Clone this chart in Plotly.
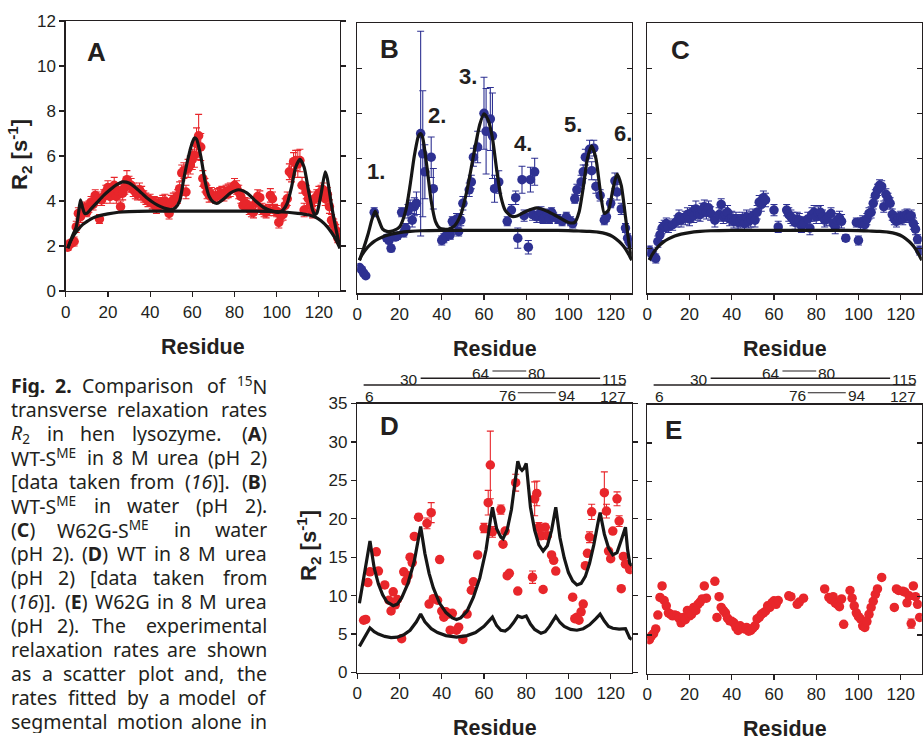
import re
import plotly.graph_objects as go

# ---------------- data ----------------
X_TICKS = [0, 20, 40, 60, 80, 100, 120]
AC_Y_TICKS = [0, 2, 4, 6, 8, 10, 12]
DE_Y_TICKS = [0, 5, 10, 15, 20, 25, 30, 35]

# Panel A: WT-S(ME) in 8 M urea
a_res = [1, 2, 3, 4, 5, 6, 7, 8, 9, 10,
         11, 12, 13, 14, 15, 16, 17, 18, 19, 20,
         21, 22, 23, 24, 25, 26, 27, 28, 29, 30,
         31, 32, 33, 34, 35, 36, 37, 38, 39, 40,
         41, 42, 43, 44, 45, 46, 47, 48, 49, 50,
         51, 52, 53, 54, 55, 56, 57, 58, 59, 60,
         61, 62, 63, 64, 65, 66, 67, 68, 69,
         71, 72, 73, 74, 75, 76, 77, 78,
         80, 81, 82, 83, 84, 85, 86, 87, 88, 89,
         90, 91, 92, 93, 94, 95, 96, 97, 98, 99,
         100, 101, 102, 103, 104, 105, 106, 107, 108, 109,
         110, 111, 112, 113, 114, 115, 116, 117, 118, 119,
         120, 121, 122, 123, 124, 125, 126, 127, 128, 129]
a_r2 = [1.95, 2.1, 2.15, 2.2, 2.85, 3.45, 3.3, 3.6, 3.7, 3.5,
        3.75, 3.95, 3.85, 4.25, 4.1, 3.2, 4.05, 4.2, 4.4, 4.6,
        4.2, 4.4, 4.7, 4.2, 4.45, 3.75, 4.35, 4.6, 4.95, 4.75,
        4.7, 4.5, 4.4, 4.3, 4.5, 4.35, 4.2, 4.1, 4.0, 4.05,
        3.9, 3.95, 3.7, 3.9, 3.85, 3.95, 4.0, 3.75, 3.45, 3.95,
        4.05, 4.1, 4.2, 4.55, 5.25, 5.35, 4.4, 5.45, 5.6, 5.85,
        6.05, 6.55, 6.9, 6.4, 5.0, 4.7, 4.4, 4.25, 4.3,
        4.2, 4.25, 4.3, 4.35, 4.3, 4.4, 4.45, 4.5,
        4.7, 4.6, 4.4, 4.2, 3.8, 3.9, 3.85, 3.65, 3.55, 3.5,
        3.9, 4.2, 4.15, 3.65, 3.55, 3.5, 3.6, 4.25, 4.1, 3.6,
        3.55, 3.05, 3.35, 3.4, 3.8, 4.1, 5.3, 5.2, 5.75, 5.8,
        5.65, 5.8, 4.7, 3.6, 4.4, 4.1, 3.8, 3.5, 4.1, 4.2,
        4.35, 4.4, 4.5, 4.1, 4.3, 3.75, 3.15, 2.95, 2.7, 2.35]
a_err = [0.15, 0.15, 0.15, 0.2, 0.25, 0.25, 0.25, 0.25, 0.25, 0.2,
         0.25, 0.25, 0.25, 0.25, 0.3, 0.2, 0.25, 0.3, 0.3, 0.3,
         0.3, 0.3, 0.35, 0.3, 0.3, 0.25, 0.3, 0.3, 0.4, 0.35,
         0.3, 0.3, 0.3, 0.25, 0.3, 0.3, 0.25, 0.25, 0.25, 0.25,
         0.25, 0.25, 0.25, 0.25, 0.25, 0.3, 0.3, 0.25, 0.25, 0.3,
         0.3, 0.3, 0.3, 0.3, 0.35, 0.35, 0.3, 0.4, 0.4, 0.45,
         0.55, 0.7, 0.95, 0.6, 0.35, 0.3, 0.3, 0.3, 0.3,
         0.3, 0.3, 0.3, 0.3, 0.3, 0.3, 0.3, 0.3,
         0.3, 0.3, 0.3, 0.3, 0.25, 0.25, 0.25, 0.25, 0.25, 0.25,
         0.3, 0.3, 0.3, 0.25, 0.25, 0.25, 0.25, 0.3, 0.3, 0.25,
         0.25, 0.25, 0.25, 0.25, 0.3, 0.3, 0.35, 0.35, 0.4, 0.45,
         0.6, 0.5, 0.35, 0.3, 0.3, 0.3, 0.25, 0.25, 0.3, 0.3,
         0.3, 0.3, 0.3, 0.3, 0.3, 0.3, 0.25, 0.25, 0.25, 0.2]
a_fit_x = [1, 3, 5, 6, 7, 8, 9, 10, 12, 15,
           18, 21, 24, 27, 30, 33, 36, 39, 42, 45,
           48, 50, 52, 54, 56, 58, 60, 61, 62, 64,
           66, 68, 70, 72, 75, 78, 82, 86, 90, 94,
           98, 101, 103, 105, 107, 109, 111, 113, 115, 117,
           118, 119, 121, 123, 124, 126, 128, 130]
a_fit_y = [1.9, 2.4, 2.85, 3.4, 4.05, 3.7, 3.45, 3.45, 3.65, 3.95,
           4.25, 4.5, 4.72, 4.85, 4.8, 4.6, 4.35, 4.1, 3.9, 3.75,
           3.65, 3.62, 3.7, 4.0, 5.0, 5.9, 6.6, 6.8, 6.75, 6.0,
           4.9, 4.2, 3.95, 3.9, 4.1, 4.35, 4.5, 4.35, 4.0, 3.7,
           3.55, 3.5, 3.6, 3.9, 4.6, 5.5, 5.85, 5.5, 4.5, 3.6,
           3.4, 3.45, 4.3, 5.3, 5.0, 3.8, 2.8, 1.9]
a_seg_x = [1, 2, 4, 6, 8, 10, 13, 16, 20, 25, 30, 40, 50, 60,
           70, 80, 90, 100, 105, 110, 114, 118, 121, 124, 126, 128, 129, 130]
a_seg_y = [1.9, 2.15, 2.5, 2.75, 2.95, 3.08, 3.25, 3.35, 3.43, 3.5, 3.53, 3.55, 3.55, 3.55,
           3.55, 3.55, 3.55, 3.53, 3.5, 3.45, 3.4, 3.3, 3.12, 2.85, 2.6, 2.3, 2.1, 1.9]

# Panel B: WT-S(ME) in water
b_res = [1, 2, 3, 4, 8, 14, 15, 16, 18, 19,
         21, 22, 23, 24, 25, 26, 27, 28, 30, 31,
         32, 35, 36, 40, 41, 42, 44, 45, 46, 47,
         48, 49, 50, 53, 54, 55, 57, 60, 61, 63,
         64, 65, 67, 71, 73, 75, 76, 78, 79, 81,
         82, 83, 84, 85, 86, 87, 88, 89, 90, 91,
         92, 93, 95, 97, 99, 101, 102, 103, 104, 106,
         107, 108, 110, 111, 112, 113, 115, 117, 118, 120,
         122, 123, 125, 127, 128, 129]
b_r2 = [1.15, 1.05, 0.9, 0.78, 3.6, 2.45, 2.35, 2.0, 2.5, 2.55,
        3.6, 2.7, 2.9, 3.65, 3.85, 3.25, 3.85, 4.0, 7.1, 6.2,
        5.4, 6.05, 4.65, 2.35, 2.45, 2.55, 2.6, 3.2, 3.1, 3.3,
        2.75, 3.25, 4.0, 4.6, 4.95, 6.05, 6.5, 8.0, 7.2, 7.75,
        7.0, 4.65, 4.95, 3.2, 3.7, 4.25, 2.45, 5.05, 3.45, 2.05,
        5.05, 3.5, 5.4, 3.4, 3.5, 3.6, 3.3, 3.4, 3.5, 3.3,
        3.6, 3.4, 3.3, 3.2, 3.4, 3.2, 3.1, 4.2, 4.6, 4.95,
        5.4, 6.05, 6.4, 5.45, 6.45, 4.75, 4.35, 3.25, 3.4, 4.0,
        5.0, 4.5, 3.75, 2.9, 2.45, 2.25]
b_err = [0.1, 0.1, 0.1, 0.1, 0.2, 0.15, 0.15, 0.15, 0.15, 0.15,
         0.2, 0.2, 0.2, 0.3, 0.3, 0.3, 0.4, 0.5, 4.55, 2.8,
         1.2, 0.9, 0.9, 0.2, 0.2, 0.2, 0.2, 0.2, 0.2, 0.25,
         0.2, 0.25, 0.3, 0.3, 0.3, 0.4, 0.7, 1.6, 1.9, 1.4,
         1.9, 0.6, 0.5, 0.2, 0.25, 0.3, 0.45, 0.6, 0.25, 0.3,
         0.55, 0.25, 0.6, 0.25, 0.25, 0.25, 0.2, 0.2, 0.25, 0.2,
         0.2, 0.2, 0.2, 0.2, 0.2, 0.2, 0.2, 0.2, 0.25, 0.3,
         0.3, 0.35, 0.4, 0.4, 0.35, 0.3, 0.25, 0.2, 0.2, 0.2,
         0.35, 0.35, 0.25, 0.2, 0.2, 0.2]
b_fit_x = [1, 3, 5, 7, 8.5, 10, 12, 14, 17, 20,
           23, 25, 27, 29, 30, 31, 33, 35, 37, 39,
           41, 43, 46, 49, 52, 55, 58, 60, 62, 64,
           66, 68, 70, 73, 76, 80, 85, 90, 95, 100,
           103, 105, 107, 109, 111, 113, 115, 117, 119, 121,
           123, 125, 127, 129, 130]
b_fit_y = [1.47, 2.0, 2.6, 3.3, 3.65, 3.3, 2.85, 2.75, 2.78, 2.95,
           3.7, 4.8, 6.1, 7.0, 7.1, 6.9, 5.6, 4.1, 3.2, 2.9,
           2.85, 2.85, 3.0, 3.5, 4.6, 6.1, 7.5, 7.98, 7.7, 6.9,
           5.5, 4.3, 3.7, 3.42, 3.45, 3.65, 3.8, 3.65, 3.4, 3.15,
           3.15, 3.6, 4.7, 6.0, 6.55, 6.0, 4.6, 3.55, 3.7, 4.6,
           5.3, 4.8, 3.4, 2.0, 1.5]
bc_seg_x = [1, 2, 4, 6, 8, 10, 13, 16, 20, 25, 30, 40, 50, 60,
            70, 80, 90, 100, 105, 110, 114, 118, 121, 124, 126, 128, 129, 130]
bc_seg_y = [1.47, 1.67, 1.95, 2.15, 2.31, 2.42, 2.55, 2.63, 2.7, 2.75, 2.78, 2.8, 2.8, 2.8,
            2.8, 2.8, 2.8, 2.79, 2.77, 2.75, 2.72, 2.64, 2.52, 2.3, 2.1, 1.82, 1.65, 1.47]

# Panel C: W62G-S(ME) in water
c_res = [1, 2, 3, 4, 5, 6, 7, 8, 9, 10,
         12, 14, 15, 16, 18, 19, 20,
         21, 22, 23, 24, 25, 26, 27, 28, 29, 30,
         32, 34, 35, 36, 37, 38, 39, 40,
         41, 42, 43, 44, 45, 46, 47, 48, 49, 50, 51, 52, 53, 54, 55, 56,
         60, 62,
         66, 67, 68, 69, 70, 71, 72, 73, 74,
         76, 77, 78, 79, 80, 81, 82, 83, 84, 85,
         87, 88, 89, 90, 91, 92,
         94,
         99, 100, 101, 102, 103, 104, 105, 106, 107, 108,
         109, 110, 111, 112, 113, 114, 115, 116, 117, 118,
         119, 120, 121, 122, 123, 124, 125, 126, 127, 128, 129]
c_r2 = [1.9, 1.75, 1.65, 1.55, 2.3, 2.6, 2.9, 3.0, 3.1, 2.95,
        3.05, 3.2, 3.4, 3.25, 3.35, 3.5, 3.3,
        3.6, 3.45, 3.75, 3.55, 3.5, 3.7, 3.85, 3.6, 3.8, 3.55,
        3.25, 3.5, 3.95, 3.4, 3.5, 3.6, 3.3, 3.35,
        3.2, 3.3, 3.15, 3.2, 3.3, 3.1, 3.4, 3.2, 3.3, 3.45, 3.25, 3.6, 4.05, 3.95, 4.25, 4.15,
        3.7, 2.95,
        3.7, 3.5, 3.4, 3.3, 3.15, 3.3, 3.25, 3.0, 3.1,
        3.3, 2.9, 3.5, 3.6, 3.4, 3.55, 3.6, 3.4, 3.25, 3.3,
        3.55, 3.1, 2.95, 3.25, 3.35, 3.2,
        2.45,
        3.15, 2.35, 3.1, 3.2, 3.05, 3.3, 3.55, 3.6, 4.0, 4.35,
        4.6, 4.8, 4.75, 3.85, 4.4, 4.2, 4.0, 3.5, 3.3, 3.2,
        3.35, 3.4, 3.3, 3.45, 3.5, 3.4, 3.45, 3.1, 2.85, 2.4, 1.9]
c_err = [0.2, 0.2, 0.2, 0.2, 0.25, 0.25, 0.25, 0.25, 0.25, 0.25,
         0.25, 0.25, 0.3, 0.3, 0.3, 0.3, 0.3,
         0.3, 0.3, 0.35, 0.3, 0.3, 0.3, 0.3, 0.3, 0.3, 0.3,
         0.3, 0.3, 0.25, 0.3, 0.3, 0.3, 0.3, 0.3,
         0.3, 0.3, 0.3, 0.3, 0.3, 0.3, 0.3, 0.3, 0.35, 0.3, 0.3, 0.3, 0.3, 0.3, 0.3, 0.3,
         0.25, 0.25,
         0.25, 0.3, 0.3, 0.3, 0.3, 0.3, 0.3, 0.3, 0.3,
         0.3, 0.3, 0.3, 0.3, 0.3, 0.3, 0.3, 0.3, 0.3, 0.3,
         0.25, 0.3, 0.3, 0.3, 0.3, 0.3,
         0.15,
         0.2, 0.2, 0.25, 0.25, 0.25, 0.25, 0.25, 0.25, 0.25, 0.25,
         0.25, 0.25, 0.25, 0.25, 0.25, 0.25, 0.25, 0.25, 0.25, 0.25,
         0.25, 0.25, 0.25, 0.25, 0.25, 0.25, 0.25, 0.25, 0.25, 0.2, 0.2]

# Panel D: WT in 8 M urea (with disulfides)
d_res = [3, 4, 5, 6, 9, 10, 13, 15, 16, 17,
         18, 19, 21, 22, 23, 24, 25, 26, 27, 29,
         33, 34, 35, 36, 38, 39, 40, 41, 42, 43,
         44, 45, 47, 48, 50, 52, 54, 55, 57, 60,
         62, 63, 64, 68, 69, 70, 71, 72, 75, 76,
         83, 84, 85, 86, 87, 88, 89, 90, 92, 93,
         94, 102, 103, 104, 105, 106, 107, 108, 109, 110,
         111, 117, 118, 119, 120, 121, 123, 124, 125, 126,
         127, 129]
d_r2 = [6.8, 6.9, 11.7, 13.1, 15.7, 13.2, 11.4, 9.4, 8.0, 10.5,
        8.8, 9.5, 4.4, 13.1, 11.9, 12.6, 15.0, 14.3, 17.7, 20.2,
        19.4, 8.9, 20.8, 9.6, 9.4, 14.7, 8.0, 7.2, 7.9, 7.6,
        5.5, 7.7, 5.5, 5.9, 4.3, 7.6, 10.7, 11.8, 15.3, 18.8,
        22.1, 27.0, 18.3, 21.2, 16.7, 18.4, 12.6, 12.9, 24.7, 10.6,
        12.4, 22.6, 23.3, 18.9, 17.8, 10.8, 18.9, 17.8, 15.3, 14.6,
        13.2, 9.8, 7.0, 7.2, 6.8, 7.9, 8.9, 13.9, 15.5, 17.6,
        20.9, 23.4, 21.0, 15.8, 14.8, 18.4, 22.6, 19.7, 10.9, 15.1,
        14.1, 13.4]
d_err = [0.3, 0.3, 0.3, 0.3, 0.3, 0.3, 0.3, 0.3, 0.3, 0.3,
         0.3, 0.3, 0.3, 0.3, 0.3, 0.3, 0.3, 0.3, 0.3, 0.4,
         0.7, 0.3, 1.3, 0.3, 0.3, 0.3, 0.3, 0.3, 0.3, 0.3,
         0.3, 0.3, 0.3, 0.3, 0.3, 0.3, 0.3, 0.3, 0.3, 0.6,
         1.6, 4.4, 0.7, 0.6, 0.3, 0.3, 0.3, 0.3, 1.1, 0.3,
         0.8, 2.2, 1.6, 0.6, 0.5, 0.3, 0.4, 0.3, 0.3, 0.3,
         0.3, 0.3, 0.3, 0.3, 0.3, 0.3, 0.3, 0.3, 0.3, 0.7,
         1.0, 2.7, 0.9, 0.3, 0.3, 0.3, 0.9, 0.7, 0.3, 0.3,
         0.3, 0.3]
d_fit_x = [1, 3, 5, 6, 8, 10, 12, 14, 17, 19,
           21, 24, 27, 29, 30, 32, 34, 36, 39, 42,
           45, 47, 49, 52, 55, 58, 61, 63, 64, 66,
           68, 69, 71, 73, 75, 76, 77, 78, 79, 80,
           82, 84, 86, 88, 90, 92, 94, 96, 98, 100,
           102, 104, 106, 108, 110, 112, 114, 115, 117, 119,
           121, 123, 125, 127, 128, 129, 130]
d_fit_y = [9.0, 12.5, 15.8, 17.1, 13.6, 11.5, 10.1, 9.2, 8.7, 8.9,
           9.7, 11.6, 14.5, 17.4, 19.0, 15.5, 12.9, 11.0, 9.0, 7.8,
           7.1, 6.9, 7.1, 8.0, 9.8, 12.3, 16.0, 19.8, 21.5, 18.7,
           17.6, 17.4, 18.6, 21.2, 25.2, 27.5, 26.6, 26.3, 26.6, 27.2,
           21.5, 18.5, 16.6, 15.8, 16.5, 18.5, 21.5, 17.5, 14.9, 13.0,
           11.9, 11.4, 11.6, 12.5, 14.2, 16.6, 19.5, 20.8, 18.0, 16.2,
           15.3, 15.6, 17.2, 18.9, 16.0, 14.2, 13.9]
d_seg_x = [1, 3, 5, 6, 8, 10, 13, 16, 19, 22,
           25, 28, 30, 32, 35, 38, 42, 47, 52, 56,
           60, 63, 64, 66, 68, 70, 72, 74, 76, 78,
           80, 82, 84, 87, 89, 91, 93, 94, 96, 98,
           101, 104, 107, 110, 113, 115, 117, 119, 121, 124,
           127, 128, 129, 130]
d_seg_y = [3.4, 4.4, 5.4, 5.8, 5.3, 5.0, 4.7, 4.55, 4.6, 4.9,
           5.5, 6.6, 7.6, 6.6, 5.7, 5.2, 4.8, 4.6, 4.8, 5.2,
           6.0, 6.9, 7.2, 6.1, 5.5, 5.4, 5.8, 6.5, 7.35, 7.15,
           7.35, 6.3, 5.6, 5.1, 5.3, 6.0, 6.9, 7.3, 6.5, 6.0,
           5.6, 5.5, 5.7, 6.2, 7.0, 7.6, 6.7, 6.0, 5.75, 5.65,
           5.7, 5.0, 4.5, 4.3]

# Panel E: W62G in 8 M urea
e_res = [1, 2, 3, 4, 5, 6, 7, 8, 9, 10,
         11, 12, 13, 14, 15, 16, 17, 18, 19, 20,
         21, 22, 23, 24, 25, 26, 27, 28,
         32, 33, 34, 35, 36, 37, 38, 39, 40, 41,
         42, 43, 44, 45, 46, 47, 48, 49, 50, 51,
         52, 53, 54, 55, 56, 57, 58, 59, 60, 61, 62,
         67, 68, 71, 72, 74,
         84, 86, 87, 88, 89, 90, 91, 92, 93,
         96, 97, 98, 99, 100, 101, 102, 103, 104, 105, 106, 107, 108, 109,
         111, 117, 118, 119,
         121, 122, 123, 124, 125, 126, 127, 128, 129]
e_r2 = [4.4, 4.9, 5.2, 5.8, 7.6, 9.9, 11.4, 9.5, 8.8, 7.9,
        7.7, 7.5, 7.6, 7.5, 7.2, 6.6, 7.3, 7.0, 8.2, 7.5,
        7.7, 8.6, 8.2, 9.0, 9.3, 9.7, 11.4, 9.8,
        12.0, 7.3, 10.0, 8.6, 8.2, 7.9, 7.2, 6.85, 6.8, 6.6,
        6.0, 5.6, 6.2, 5.9, 5.8, 6.0, 5.5, 5.6, 5.9, 6.2,
        7.1, 7.3, 7.7, 7.9, 8.1, 8.8, 8.6, 9.2, 9.45, 9.0, 9.5,
        10.1, 10.0, 9.0, 9.3, 9.8,
        11.0, 9.9, 9.6, 10.0, 9.2, 9.0, 8.7, 9.7, 6.4,
        10.8, 9.8, 8.8, 7.9, 7.4, 7.1, 6.2, 6.0, 6.75, 7.7, 8.6, 9.4, 10.3, 11.0,
        12.5, 8.6, 11.0, 10.8,
        10.7, 10.6, 9.2, 10.1, 6.5, 11.4, 10.0, 9.0, 7.3]
e_err = [0.3, 0.3, 0.3, 0.3, 0.3, 0.3, 0.3, 0.3, 0.3, 0.3,
         0.3, 0.3, 0.3, 0.3, 0.3, 0.3, 0.3, 0.3, 0.3, 0.3,
         0.3, 0.3, 0.3, 0.3, 0.3, 0.3, 0.3, 0.3,
         0.3, 0.3, 0.3, 0.3, 0.3, 0.3, 0.3, 0.3, 0.3, 0.3,
         0.3, 0.3, 0.3, 0.3, 0.3, 0.3, 0.3, 0.3, 0.3, 0.3,
         0.3, 0.3, 0.3, 0.3, 0.3, 0.3, 0.3, 0.3, 0.3, 0.3, 0.3,
         0.3, 0.3, 0.3, 0.3, 0.3,
         0.3, 0.3, 0.3, 0.3, 0.3, 0.3, 0.3, 0.3, 0.3,
         0.3, 0.3, 0.3, 0.3, 0.3, 0.3, 0.3, 0.3, 0.3, 0.3, 0.3, 0.3, 0.3, 0.3,
         0.3, 0.3, 0.3, 0.3,
         0.3, 0.3, 0.3, 0.3, 0.6, 0.3, 0.3, 0.3, 0.3]

# disulfide bonds drawn above D and E
ss_bonds = [(64, 80), (30, 115), (6, 127), (76, 94)]
peak_labels = ["1.", "2.", "3.", "4.", "5.", "6."]
panel_letters = ["A", "B", "C", "D", "E"]

caption_lines = [
    ["<b>Fig.</b>", "<b>2.</b>", "Comparison", "of", "<sup>15</sup>N"],
    ["transverse", "relaxation", "rates"],
    ["<i>R</i><sub>2</sub>", "in", "hen", "lysozyme.", "(<b>A</b>)"],
    ["WT-S<sup>ME</sup>", "in", "8", "M", "urea", "(pH", "2)"],
    ["[data", "taken", "from", "(<i>16</i>)].", "(<b>B</b>)"],
    ["WT-S<sup>ME</sup>", "in", "water", "(pH", "2)."],
    ["(<b>C</b>)", "W62G-S<sup>ME</sup>", "in", "water"],
    ["(pH", "2).", "(<b>D</b>)", "WT", "in", "8", "M", "urea"],
    ["(pH", "2)", "[data", "taken", "from"],
    ["(<i>16</i>)].", "(<b>E</b>)", "W62G", "in", "8", "M", "urea"],
    ["(pH", "2).", "The", "experimental"],
    ["relaxation", "rates", "are", "shown"],
    ["as", "a", "scatter", "plot", "and,", "the"],
    ["rates", "fitted", "by", "a", "model", "of"],
    ["segmental", "motion", "alone", "in"],
]

# ---------------- style ----------------
W, H = 924, 738
RED = "#e8262b"
BLUE = "#2e3192"
INK = "#231f20"
CURVE = "#161616"
FONT = "Liberation Sans, Arial, sans-serif"
CAPFONT = "Noto Sans, sans-serif"

# pixel boxes (left, right, top, bottom)
BOX = {
    "A": (65.7, 340.0, 21.0, 291.0),
    "B": (357.3, 631.8, 23.3, 293.3),
    "C": (647.3, 921.8, 23.3, 293.3),
    "D": (357.3, 631.8, 403.5, 672.5),
    "E": (647.3, 921.8, 404.5, 673.5),
}
AX = {"A": "", "B": "2", "C": "3", "D": "4", "E": "5"}


def px(x):
    return x / W


def py(y):
    return 1 - y / H


fig = go.Figure()


def add_points(p, xs, ys, errs, color):
    fig.add_trace(go.Scatter(
        x=xs, y=ys, mode="markers",
        marker=dict(size=9.5, color=color, line=dict(width=0)),
        error_y=dict(type="data", array=errs, color=color, thickness=1.1, width=3.5),
        xaxis="x" + AX[p], yaxis="y" + AX[p], showlegend=False, hoverinfo="skip"))


def add_curve(p, xs, ys, shape="spline"):
    line = dict(color=CURVE, width=3.2, shape=shape)
    if shape == "spline":
        line["smoothing"] = 0.6
    fig.add_trace(go.Scatter(
        x=xs, y=ys, mode="lines", line=line,
        xaxis="x" + AX[p], yaxis="y" + AX[p], showlegend=False, hoverinfo="skip"))


add_points("A", a_res, a_r2, a_err, RED)
add_curve("A", a_seg_x, a_seg_y)
add_curve("A", a_fit_x, a_fit_y)

add_points("B", b_res, b_r2, b_err, BLUE)
add_curve("B", bc_seg_x, bc_seg_y)
add_curve("B", b_fit_x, b_fit_y)

add_points("C", c_res, c_r2, c_err, BLUE)
add_curve("C", bc_seg_x, bc_seg_y)

add_points("D", d_res, d_r2, d_err, RED)
add_curve("D", d_seg_x, d_seg_y, shape="linear")
add_curve("D", d_fit_x, d_fit_y, shape="linear")

add_points("E", e_res, e_r2, e_err, RED)

layout = dict(
    width=W, height=H, autosize=False,
    margin=dict(l=0, r=0, t=0, b=0, pad=0),
    paper_bgcolor="white", plot_bgcolor="white",
    showlegend=False, hovermode=False,
)

tickfont = dict(family=FONT, size=17, color=INK)
for p, (l, r, t, b) in BOX.items():
    xa = dict(domain=[px(l), px(r)], range=[0, 130], tickvals=X_TICKS,
              ticks="outside", ticklen=5, tickwidth=1.2, tickcolor=INK,
              showline=True, linecolor=INK, linewidth=1.4, mirror=True,
              showgrid=False, zeroline=False, tickfont=tickfont,
              anchor="y" + AX[p], fixedrange=True, automargin=False)
    yt = AC_Y_TICKS if p in "ABC" else DE_Y_TICKS
    ya = dict(domain=[py(b), py(t)], range=[yt[0], yt[-1]], tickvals=yt,
              showline=True, linecolor=INK, linewidth=1.4, mirror="ticks",
              tickwidth=1.2, tickcolor=INK, ticklen=5,
              showgrid=False, zeroline=False, tickfont=tickfont,
              anchor="x" + AX[p], fixedrange=True, automargin=False)
    if p in ("A", "D"):
        ya.update(ticks="outside", showticklabels=True)
    else:
        ya.update(ticks="inside", showticklabels=False)
    layout["xaxis" + AX[p]] = xa
    layout["yaxis" + AX[p]] = ya

annotations = []
shapes = []

# panel letters
letter_pos = {"A": (96, 52), "B": (389, 49), "C": (680, 50), "D": (389, 426), "E": (673, 430)}
for p in panel_letters:
    x, y = letter_pos[p]
    annotations.append(dict(text="<b>%s</b>" % p, x=px(x), y=py(y), xref="paper", yref="paper",
                            showarrow=False, xanchor="center", yanchor="middle",
                            font=dict(family=FONT, size=26, color=INK)))

# peak labels in B
peak_pos = [(376, 172), (437, 115), (468, 77), (523, 144), (573, 124), (623, 133)]
for txt, (x, y) in zip(peak_labels, peak_pos):
    annotations.append(dict(text="<b>%s</b>" % txt, x=px(x), y=py(y), xref="paper", yref="paper",
                            showarrow=False, xanchor="center", yanchor="middle",
                            font=dict(family=FONT, size=22, color=INK)))

# axis titles
for p, (l, r, t, b) in BOX.items():
    annotations.append(dict(text="<b>Residue</b>", x=px((l + r) / 2), y=py(b + 55),
                            xref="paper", yref="paper", showarrow=False,
                            xanchor="center", yanchor="middle", borderpad=0, height=21,
                            font=dict(family=FONT, size=21.5, color=INK)))
for (x, y) in [(20, 155), (308, 546)]:
    annotations.append(dict(text="<b>R<sub>2</sub> [s<sup>-1</sup>]</b>", x=px(x), y=py(y),
                            xref="paper", yref="paper", showarrow=False, textangle=-90,
                            xanchor="center", yanchor="middle",
                            font=dict(family=FONT, size=22, color=INK)))

# disulfide bond diagrams
ss_rows = {  # bond: (line y px, label y px, labels beside or below)
    (64, 80): (371, 373, "side"),
    (30, 115): (378.3, 379.5, "side"),
    (6, 127): (385, 396, "below"),
    (76, 94): (392.7, 395.5, "side"),
}
ssfont = dict(family=FONT, size=15.5, color=INK)
for ax in ("4", "5"):
    for (c1, c2) in ss_bonds:
        ly, ty, mode = ss_rows[(c1, c2)]
        x0 = c1 - 3 if mode == "below" else c1
        shapes.append(dict(type="line", xref="x" + ax, yref="paper", x0=x0, x1=c2,
                           y0=py(ly), y1=py(ly),
                           line=dict(color=INK, width=1.4 if mode == "below" or c1 == 30 else 1.1)))
        if mode == "side":
            annotations.append(dict(text=str(c1), x=c1 - 0.6, y=py(ty), xref="x" + ax, yref="paper",
                                    showarrow=False, xanchor="right", yanchor="middle", font=ssfont,
                                    borderpad=0))
            annotations.append(dict(text=str(c2), x=c2 + 0.6, y=py(ty), xref="x" + ax, yref="paper",
                                    showarrow=False, xanchor="left", yanchor="middle", font=ssfont,
                                    borderpad=0))
        else:
            annotations.append(dict(text=str(c1), x=x0, y=py(ty), xref="x" + ax, yref="paper",
                                    showarrow=False, xanchor="left", yanchor="middle", font=ssfont,
                                    borderpad=0))
            annotations.append(dict(text=str(c2), x=c2 + 0.5, y=py(ty), xref="x" + ax, yref="paper",
                                    showarrow=False, xanchor="right", yanchor="middle", font=ssfont,
                                    borderpad=0))

# caption (justified by hand)
CW = {' ': 260, '.': 268, ',': 250, '(': 296, ')': 296, '[': 329, ']': 329, '-': 322,
      'a': 561, 'b': 615, 'c': 480, 'd': 615, 'e': 564, 'f': 344, 'g': 615, 'h': 618,
      'i': 258, 'j': 258, 'k': 529, 'l': 258, 'm': 940, 'n': 618, 'o': 605, 'p': 615,
      'q': 615, 'r': 408, 's': 479, 't': 361, 'u': 618, 'v': 510, 'w': 786, 'x': 529,
      'y': 511, 'z': 470, 'A': 639, 'B': 655, 'C': 632, 'D': 727, 'E': 556, 'F': 522,
      'G': 726, 'H': 738, 'I': 312, 'M': 898, 'N': 758, 'P': 603, 'R': 630, 'S': 550,
      'T': 553, 'W': 926}
for dch in "0123456789":
    CW[dch] = 572


def word_width(html, size):
    w = 0.0
    bold = False
    scale = 1.0
    for tok in re.split(r'(<[^>]+>)', html):
        if not tok:
            continue
        if tok.startswith('<'):
            closing = tok.startswith('</')
            tag = tok.strip('<>/').lower()
            if tag == 'b':
                bold = not closing
            elif tag in ('sup', 'sub'):
                scale = 1.0 if closing else 0.7
            continue
        for ch in tok:
            w += CW.get(ch, 560) / 1000.0 * size * scale * (1.06 if bold else 1.0)
    return w


CAP_SIZE = 19.5
CAP_L, CAP_R = 11, 267
CAP_Y0, CAP_DY = 385, 24.05
for k, words in enumerate(caption_lines):
    widths = [word_width(wd, CAP_SIZE) * 1.045 for wd in words]
    gap = (CAP_R - CAP_L - sum(widths)) / (len(words) - 1)
    x = CAP_L
    yc = CAP_Y0 + k * CAP_DY
    n = len(words)
    for i, (wd, wdt) in enumerate(zip(words, widths)):
        last = (i == n - 1)
        annotations.append(dict(text=wd, x=px(CAP_R if last else x), y=py(yc),
                                xref="paper", yref="paper",
                                showarrow=False, xanchor="right" if last else "left",
                                yanchor="middle", borderpad=0, borderwidth=0, height=23,
                                valign="middle",
                                font=dict(family=CAPFONT, size=CAP_SIZE, color=INK)))
        x += wdt + gap

layout["annotations"] = annotations
layout["shapes"] = shapes
fig.update_layout(**layout)

PAGE_FIX = (
    "var s=document.createElement('style');"
    "s.textContent='html,body{margin:0!important;padding:0!important;overflow:hidden!important;"
    "width:924px;height:738px;}';"
    "document.head.appendChild(s);"
)
fig.write_html("out.html", config={"displayModeBar": False, "staticPlot": True},
               post_script=PAGE_FIX)
